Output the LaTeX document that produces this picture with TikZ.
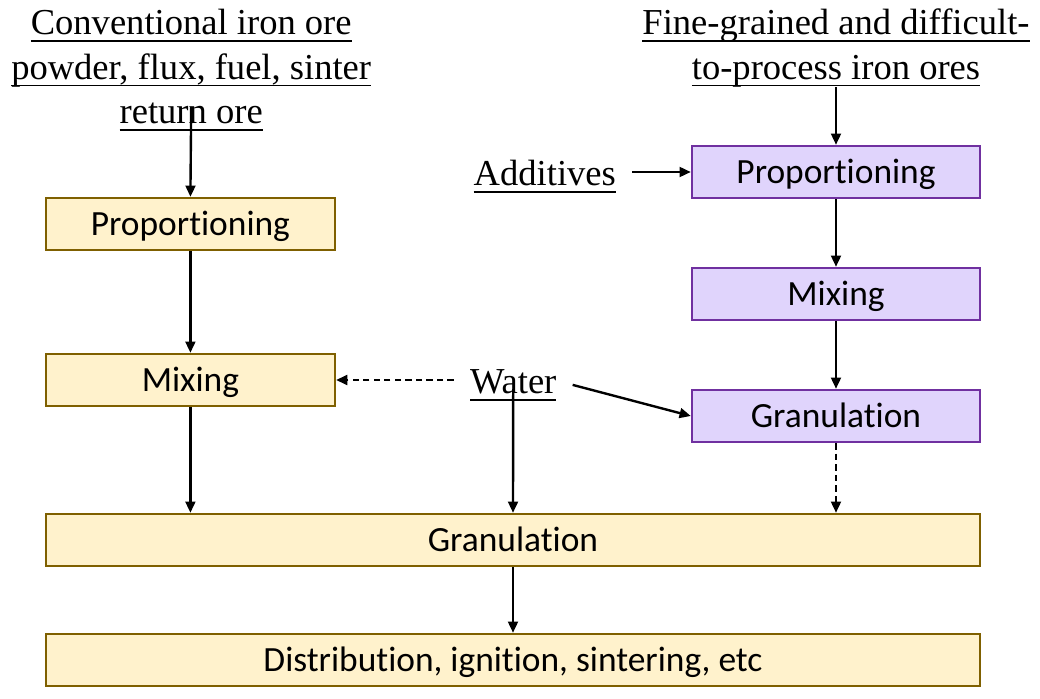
\documentclass[tikz,border=0pt]{standalone}
\usepackage{fontspec}
\setmainfont{Liberation Serif}
\newfontfamily\boxfont[Ligatures=NoCommon]{Carlito}
\usetikzlibrary{arrows.meta}

\definecolor{oreyellow}{RGB}{255,242,204}
\definecolor{orebrown}{RGB}{127,96,0}
\definecolor{finefill}{RGB}{224,212,252}
\definecolor{fineline}{RGB}{112,48,160}

% underline at a fixed depth
\newcommand\undl[1]{\setbox0=\hbox{#1}\makebox[0pt][l]{\rule[-0.2em]{\wd0}{1.3pt}}\box0}

\begin{document}
\begin{tikzpicture}[
  yellowbox/.style = {draw=orebrown, fill=oreyellow, line width=1.7pt, minimum height=1.3cm,
                      text height=18pt, text depth=1pt,
                      font=\boxfont\fontsize{25.2}{30}\selectfont},
  purplebox/.style = {draw=fineline, fill=finefill, line width=1.7pt, minimum width=7.2cm,
                      minimum height=1.3cm, text height=18pt, text depth=1pt,
                      font=\boxfont\fontsize{25.2}{30}\selectfont},
  lbl/.style       = {font=\fontsize{26}{31.5}\selectfont, align=center, inner xsep=0.4cm, inner ysep=0pt},
  flow/.style      = {-{Triangle[length=8pt,width=7pt]}, line width=1.7pt},
  dashflow/.style  = {flow, dash pattern=on 4.5pt off 3pt}
]
\useasboundingbox (0,0) rectangle (26,-17.475);

% ---- LEFT BRANCH: conventional ores ----
\node[lbl] (convtitle) at (4.78,-1.75)
  {\undl{Conventional iron ore}\\\undl{powder, flux, fuel, sinter}\\\undl{return ore}};
\node[yellowbox, minimum width=7.225cm] (lprop) at (4.76,-5.6) {Proportioning};
\node[yellowbox, minimum width=7.225cm] (lmix)  at (4.76,-9.5) {Mixing};

% ---- RIGHT BRANCH: fine-grained ores ----
\node[lbl] (finetitle) at (20.9,-1.2)
  {\undl{Fine-grained and difficult-}\\\undl{to-process iron ores}};
\node[purplebox] (rprop) at (20.9,-4.3)  {Proportioning};
\node[purplebox] (rmix)  at (20.9,-7.35) {Mixing};
\node[purplebox] (rgran) at (20.9,-10.4) {Granulation};
\node[lbl, anchor=base] (additives) at (13.62,-4.63) {\undl{Additives}};

% ---- water and common steps ----
\node[lbl, anchor=base] (water) at (12.83,-9.83) {\undl{Water}};
\node[yellowbox, minimum width=23.35cm] (gran) at (12.825,-13.5) {Granulation};
\node[yellowbox, minimum width=23.35cm] (dist) at (12.825,-16.5)
  {Distribution, ignition, sintering, etc};

% ---- connectors ----
\draw[flow] ([yshift=0.6cm]convtitle.south) -- (lprop.north);
\draw[flow] (lprop) -- (lmix);
\draw[flow] (lmix) -- (lmix |- gran.north);
\draw[flow] (finetitle.south) -- (rprop.north);
\draw[flow] (additives.east |- rprop) -- (rprop.west);
\draw[flow] (rprop) -- (rmix);
\draw[flow] (rmix) -- (rgran);
\draw[dashflow] (rgran) -- (rgran |- gran.north);
\draw[dashflow] (water.west |- lmix) -- (lmix.east);
\draw[flow] (water.east) -- (rgran.west);
\draw[flow] ([yshift=0.1cm]water.base) -- (gran.north);
\draw[flow] (gran) -- (dist);

\end{tikzpicture}
\end{document}
